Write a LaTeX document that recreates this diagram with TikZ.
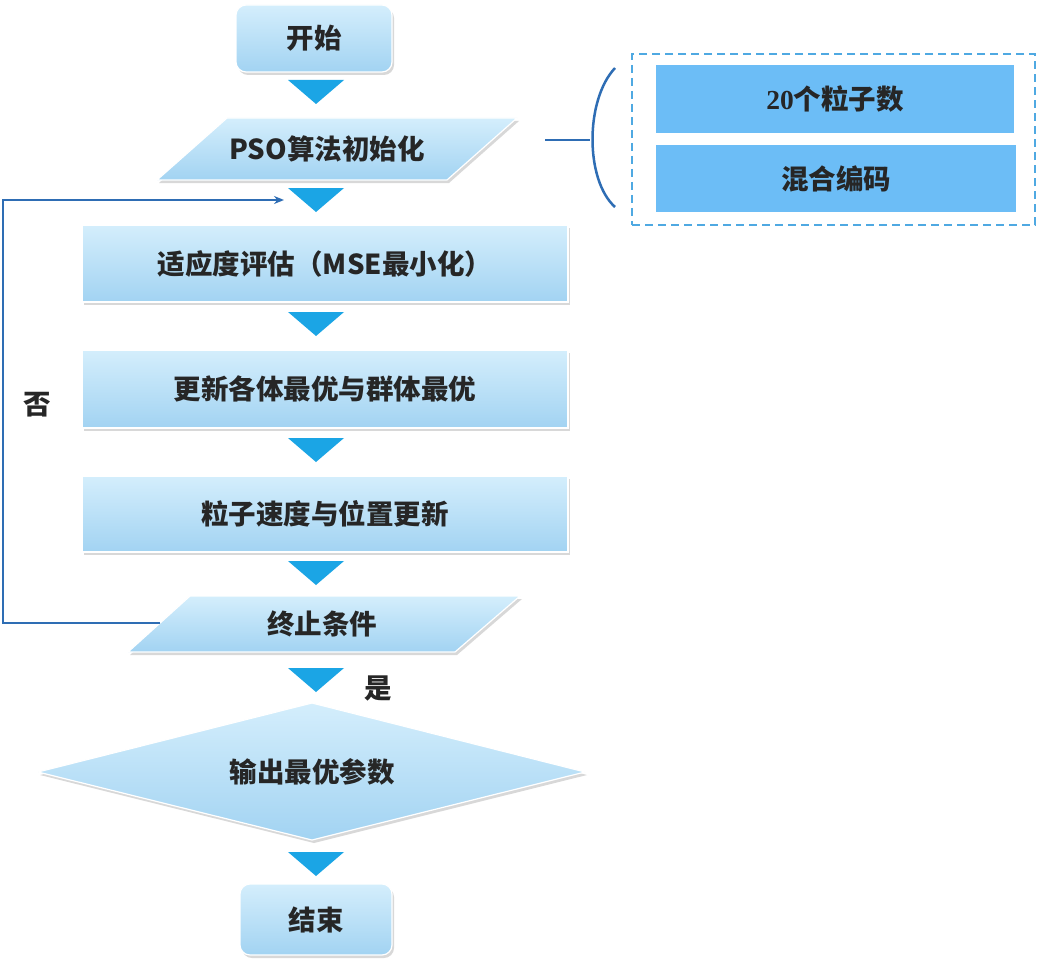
\documentclass[tikz,border=0pt]{standalone}
\usepackage{fontspec}
\setmainfont{Noto Sans CJK SC}
\newfontfamily\numfont{Liberation Serif}
\usetikzlibrary{shadows,arrows.meta}
\definecolor{tricol}{HTML}{1BA5E5}
\definecolor{linecol}{HTML}{2E6DB4}
\definecolor{boxtop}{HTML}{D4EEFC}
\definecolor{boxbot}{HTML}{A2D3F2}
\definecolor{sidefill}{HTML}{6CBDF6}
\definecolor{dashcol}{HTML}{4FA9E2}
\begin{document}
\begin{tikzpicture}[x=1pt,y=-1pt,
  box/.style={top color=boxtop,bottom color=boxbot,draw=white,line width=1.2pt,
    drop shadow={opacity=0.25,shadow xshift=2pt,shadow yshift=-3pt,fill=black!60}},
  lab/.style={font=\bfseries\fontsize{27.5}{32}\selectfont,text=black!85,inner sep=2pt},
  rbox/.style={box,lab,rectangle,rounded corners=10pt},
  sbox/.style={box,lab,rectangle},
  sidebox/.style={lab,rectangle,fill=sidefill,minimum width=358pt,minimum height=68pt},
  flow/.style={linecol,line width=2pt},
  downtri/.pic={\fill[tricol] (-28,0) -- (28,0) -- (0,24) -- cycle;}]
\useasboundingbox (0,0) rectangle (1039,963);
\fill[white] (0,0) rectangle (1039,963);

% start
\node[rbox,minimum width=156pt,minimum height=67pt] (start) at (314,38.5) {开始};
\pic at (316,80) {downtri};

% PSO init parallelogram
\path[box] (157,180) -- (227,118) -- (517,118) -- (447,180) -- cycle;
\node[lab] (init) at (327,149) {PSO算法初始化};
\pic at (316,188) {downtri};

% side info
\coordinate (initR) at (545,140);
\coordinate (brk) at (590,140);
\draw[flow] (initR) -- (brk);
\draw[flow,line width=2.5pt] (615,68) .. controls (585,100) and (585,180) .. (615,207);
\node[draw=dashcol,dashed,dash pattern=on 8pt off 5pt,line width=2.5pt,rectangle,
  minimum width=403pt,minimum height=171pt] (info) at (833.5,139.5) {};
\node[sidebox] (n20) at (835,99.5) {{\numfont\bfseries 20}个粒子数};
\node[sidebox,minimum width=360pt,minimum height=67pt] (code) at (836,178.5) {混合编码};

% fitness
\node[sbox,minimum width=486pt,minimum height=77pt] (fit) at (325,263.5) {适应度评估（MSE最小化）};
\pic at (316,312) {downtri};
\node[sbox,minimum width=486pt,minimum height=78pt] (upd) at (325,389) {更新各体最优与群体最优};
\pic at (316,438) {downtri};
\node[sbox,minimum width=486pt,minimum height=76pt] (vel) at (325,514) {粒子速度与位置更新};
\pic at (316,561) {downtri};

% termination parallelogram
\path[box] (128,652) -- (190,596) -- (520,596) -- (455,652) -- cycle;
\node[lab] (term) at (322,624) {终止条件};
\pic at (316,668) {downtri};
\node[lab] (yes) at (378,688) {是};

% output diamond
\path[box] (38,772) -- (312,703) -- (585,772) -- (312,840) -- cycle;
\node[lab] (out) at (312,772) {输出最优参数};
\pic at (316,852) {downtri};

% end
\node[rbox,minimum width=152pt,minimum height=71pt] (end) at (316,919.5) {结束};

% feedback loop
\coordinate (termL) at (160,623);
\coordinate (loopTarget) at (284,200);
\draw[flow,-{Stealth[length=10pt,width=8pt]}] (termL) -- (3,623) -- (3,200) -- (loopTarget);
\node[lab] (no) at (37,405) {否};
\end{tikzpicture}
\end{document}
